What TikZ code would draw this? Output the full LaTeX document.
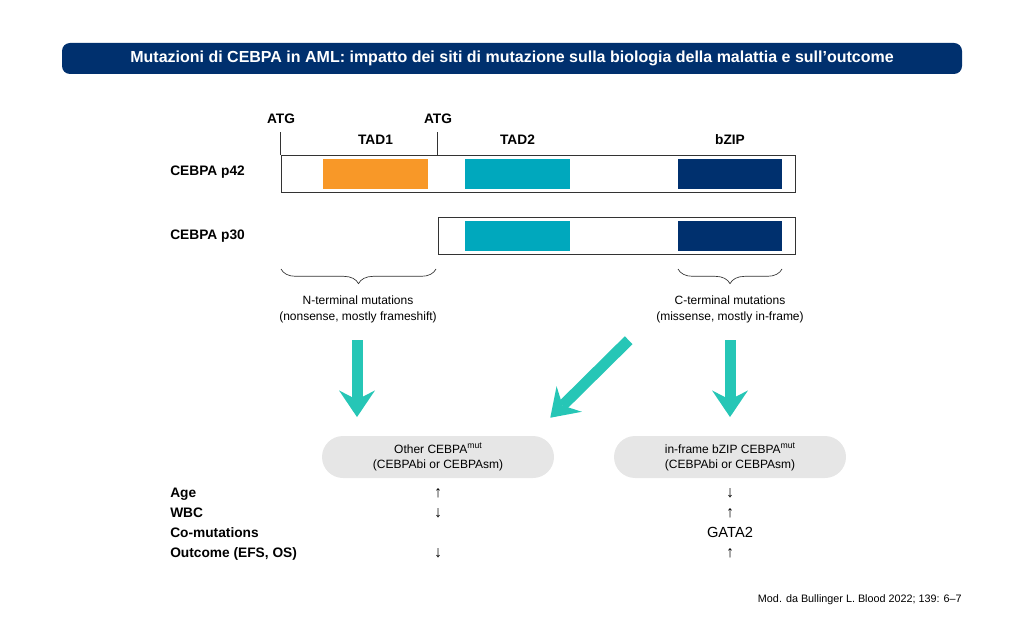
\documentclass[tikz,border=0pt]{standalone}
\usepackage{fontspec}
\setmainfont{Liberation Sans}
\usetikzlibrary{arrows.meta, positioning, fit, decorations.pathreplacing, calc}

\definecolor{navy}{RGB}{0,48,110}
\definecolor{tadorange}{RGB}{248,152,40}
\definecolor{tadteal}{RGB}{0,168,189}
\definecolor{arrowteal}{RGB}{38,198,182}
\definecolor{pillgray}{RGB}{230,230,230}

\newcommand{\mutsup}{\raisebox{0.75ex}{\fontsize{6.5}{7}\selectfont mut}}

\begin{document}
\begin{tikzpicture}[
    x=0.75pt, y=-0.75pt,
    font=\fontsize{9}{12}\selectfont,
    % Style definitions
    titlebar/.style={fill=navy, rounded corners=6pt, minimum width=675pt, minimum height=23.25pt, text=white, font=\fontsize{12}{14}\selectfont\bfseries},
    head/.style={font=\fontsize{10.3}{12}\selectfont\bfseries, inner sep=0pt},
    bar/.style={draw=black!80, line width=0.6pt, fill=white, inner sep=0pt},
    dombox/.style={inner sep=0pt},
    tick/.style={draw=black!80, line width=0.6pt},
    brace/.style={draw=black!80, line width=0.5pt, decorate, decoration={brace, mirror, amplitude=11pt}},
    note/.style={align=center, inner sep=0pt},
    pill/.style={fill=pillgray, rounded corners=15.75pt, minimum width=174pt, minimum height=31.5pt, align=center, font=\fontsize{9}{11.25}\selectfont},
    rowlbl/.style={anchor=west, inner sep=0pt, text height=1.6ex, text depth=.3ex, font=\fontsize{10.3}{12}\selectfont\bfseries},
    cell/.style={inner sep=0pt, text height=1.6ex, text depth=.3ex, font=\fontsize{11}{12}\selectfont},
    updown/.style={cell, font=\fontsize{12}{12}\selectfont},
    bigarrow/.style={draw=arrowteal, line width=8.25pt, -{Stealth[length=20pt, width=27pt, inset=7pt, line width=0pt]}},
]

\useasboundingbox (0,0) rectangle (1024,620);

%% ---------- TITLE ----------
\node[titlebar] (title) at (512,58.5) {Mutazioni di CEBPA in AML: impatto dei siti di mutazione sulla biologia della malattia e sull'outcome};

%% ---------- PROTEIN BARS ----------
\node[bar, fit={(281,155) (795,192)}] (p42) {};
\node[bar, fit={(438,217) (795,254)}] (p30) {};

\node[dombox, fill=tadorange, fit={(323,159) (428,189)}] (tadone) {};
\node[dombox, fill=tadteal, fit={(465,159) (570,189)}] (tadtwo) {};
\node[dombox, fill=navy, fit={(678,159) (782,189)}] (bzip) {};
\node[dombox, fill=tadteal, fit={(465,221) (570,251)}] (tadtwo_s) {};
\node[dombox, fill=navy, fit={(678,221) (782,251)}] (bzip_s) {};

\node[head, anchor=west] (p42_lbl) at (170,172.5) {CEBPA p42};
\node[head, anchor=west] (p30_lbl) at (170,236) {CEBPA p30};

%% ---------- START CODONS + DOMAIN LABELS ----------
\node[head] (atg_one) at (281,118.5) {ATG};
\node[head] (atg_two) at (438,118.5) {ATG};
\draw[tick] (p42.north west) -- ++(0,-23);
\draw[tick] (p30.north west |- p42.north) -- ++(0,-23);

\node[head] (tadone_lbl) at (375.5,140) {TAD1};
\node[head] (tadtwo_lbl) at (517.5,140) {TAD2};
\node[head] (bzip_lbl) at (730,140) {bZIP};

%% ---------- MUTATION REGIONS ----------
\coordinate (nb_l) at (281,269);
\coordinate (nb_r) at (436,269);
\coordinate (cb_l) at (678,269);
\coordinate (cb_r) at (782,269);
\draw[brace] (nb_l) -- (nb_r);
\draw[brace] (cb_l) -- (cb_r);

\node[note] (nterm) at (358,309) {N-terminal mutations\\(nonsense, mostly frameshift)};
\node[note] (cterm) at (730,309) {C-terminal mutations\\(missense, mostly in-frame)};

%% ---------- MUTATION GROUPS ----------
\node[pill] (other) at (438,457) {Other CEBPA\mutsup\\(CEBPAbi or CEBPAsm)};
\node[pill] (inframe) at (730,457) {in-frame bZIP CEBPA\mutsup\\(CEBPAbi or CEBPAsm)};

%% ========== ARROWS ==========
\draw[bigarrow] ([xshift=-0.75pt, yshift=-13pt]nterm.south) -- ([xshift=-0.75pt, yshift=14pt]nterm.south |- other.north);
\draw[bigarrow] ([xshift=-76pt, yshift=-13pt]cterm.south) -- ([xshift=-3pt, yshift=13.5pt]other.north east);
\draw[bigarrow] ([yshift=-13pt]cterm.south) -- ([yshift=14pt]inframe.north);

%% ========== FEATURES TABLE ==========
\node[rowlbl] (age) at (170,493) {Age};
\node[rowlbl] (wbc) at (170,513) {WBC};
\node[rowlbl] (comut) at (170,533) {Co-mutations};
\node[rowlbl] (outcome) at (170,553) {Outcome (EFS, OS)};

\node[updown] (age_o) at (other |- age) {↑};
\node[updown] (wbc_o) at (other |- wbc) {↓};
\node[updown] (outcome_o) at (other |- outcome) {↓};

\node[updown] (age_i) at (inframe |- age) {↓};
\node[updown] (wbc_i) at (inframe |- wbc) {↑};
\node[cell] (comut_i) at (inframe |- comut) {GATA2};
\node[updown] (outcome_i) at (inframe |- outcome) {↑};

%% ---------- SOURCE ----------
\node[anchor=east, inner sep=0pt, font=\fontsize{8.1}{9}\selectfont] (source) at (962,600) {Mod. da Bullinger L. Blood 2022; 139: 6--7};

\end{tikzpicture}
\end{document}
